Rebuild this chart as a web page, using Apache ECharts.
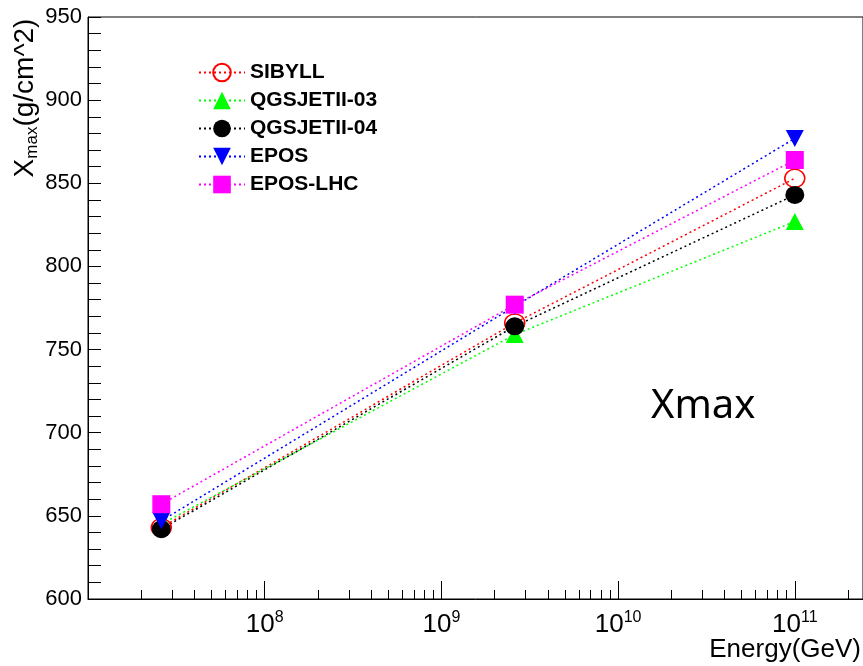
<!DOCTYPE html>
<html><head><meta charset="utf-8">
<script src="https://cdn.jsdelivr.net/npm/echarts@6/dist/echarts.min.js"></script>
<style>html,body{margin:0;padding:0;background:#fff}#c{width:863px;height:666px}</style>
</head><body><div id="c"></div>
<script>
// Data (energy in GeV, Xmax in g/cm^2)
const energies = [2.6e7, 2.6e9, 1e11];
const sibyll  = [643, 766, 853];
const qgs03   = [645, 759, 827];
const qgs04   = [642, 764, 843];
const epos    = [647, 776, 877];
const eposLhc = [657, 777, 864];
const seriesNames = ['SIBYLL', 'QGSJETII-03', 'QGSJETII-04', 'EPOS', 'EPOS-LHC'];
const xMajorExp = [8, 9, 10, 11];
const yLabels = [600, 650, 700, 750, 800, 850, 900, 950];

const FONT = "'Liberation Sans', Arial, Helvetica, sans-serif";
const xMin = 7, xMax = 11.386;
const xMinor = [];
for (let d = 7; d <= 11; d++) for (let k = 2; k <= 9; k++) { const v = d + Math.log10(k); if (v < xMax) xMinor.push(v); }
const yMinor = [];
for (let v = 600; v <= 950; v += 10) yMinor.push(v);

const toPts = vals => energies.map((e, i) => [Math.log10(e), vals[i]]);
const dotted = c => ({ color: c, width: 1.5, type: [2, 3] });

const chart = echarts.init(document.getElementById('c'));
chart.setOption({
  animation: false,
  backgroundColor: '#fff',
  grid: { left: 88, right: -20, top: 17, bottom: 67, show: true, borderColor: '#000', borderWidth: 1 },
  legend: {
    orient: 'vertical', left: 193, top: 57,
    itemWidth: 46, itemHeight: 22, itemGap: 7,
    data: seriesNames,
    textStyle: { fontFamily: FONT, fontWeight: 'bold', fontSize: 21, color: '#000', padding: [0, 0, 0, 0] }
  },
  xAxis: [{
    type: 'value', min: xMin, max: xMax,
    axisLine: { show: true, lineStyle: { color: '#000', width: 1 } },
    axisTick: { show: true, inside: true, length: 18, customValues: [7, 8, 9, 10, 11], lineStyle: { color: '#000' } },
    splitLine: { show: false },
    axisLabel: {
      customValues: xMajorExp, margin: 11,
      formatter: v => '{b|10}{s|' + Math.round(v) + '}',
      rich: {
        b: { fontFamily: FONT, fontSize: 26, color: '#000', lineHeight: 30 },
        s: { fontFamily: FONT, fontSize: 16, color: '#000', lineHeight: 16, verticalAlign: 'top' }
      }
    }
  }, {
    type: 'value', min: xMin, max: xMax, position: 'bottom',
    axisLine: { show: false },
    axisTick: { show: true, inside: true, length: 9, customValues: xMinor, lineStyle: { color: '#000' } },
    axisLabel: { show: false }, splitLine: { show: false }
  }],
  yAxis: {
    type: 'value', min: 600, max: 950,
    axisLine: { show: true, lineStyle: { color: '#000', width: 1 } },
    axisTick: { show: true, inside: true, length: 13, customValues: yMinor, lineStyle: { color: '#000' } },
    splitLine: { show: false },
    axisLabel: { customValues: yLabels, margin: 6, fontFamily: FONT, fontSize: 22, color: '#000' }
  },
  series: [
    { name: 'SIBYLL', type: 'line', data: toPts(sibyll), symbol: 'circle', symbolSize: [20, 18],
      itemStyle: { color: 'rgba(255,255,255,0)', borderColor: '#ff0000', borderWidth: 1.5 }, lineStyle: dotted('#ff0000') },
    { name: 'QGSJETII-03', type: 'line', data: toPts(qgs03), symbol: 'triangle', symbolSize: [18, 17],
      itemStyle: { color: '#00ff00' }, lineStyle: dotted('#00ff00') },
    { name: 'QGSJETII-04', type: 'line', data: toPts(qgs04), symbol: 'circle', symbolSize: [19, 18],
      itemStyle: { color: '#000000' }, lineStyle: dotted('#000000') },
    { name: 'EPOS', type: 'line', data: toPts(epos), symbol: 'path://M0,0 L10,0 L5,10 Z', symbolSize: [18, 17],
      itemStyle: { color: '#0000ff' }, lineStyle: dotted('#0000ff') },
    { name: 'EPOS-LHC', type: 'line', data: toPts(eposLhc), symbol: 'rect', symbolSize: [18, 18],
      itemStyle: { color: '#ff00ff' }, lineStyle: dotted('#ff00ff') }
  ],
  graphic: [
    { type: 'text', left: 651, top: 387, style: { text: 'Xmax', fontFamily: "'Noto Sans', 'Open Sans', sans-serif", fontSize: 40, fill: '#000' } },
    { type: 'text', x: 861, y: 650, style: { text: 'Energy(GeV)', fontFamily: FONT, fontSize: 26, fill: '#000', textAlign: 'right', textVerticalAlign: 'middle' } },
    { type: 'text', x: 25, y: 98, rotation: Math.PI / 2,
      style: { text: '{a|X}{b|max}{a|(g/cm^2)}', textAlign: 'center', textVerticalAlign: 'middle',
        rich: { a: { fontFamily: FONT, fontSize: 28, fill: '#000', lineHeight: 32 },
                b: { fontFamily: FONT, fontSize: 17, fill: '#000', lineHeight: 17, verticalAlign: 'bottom' } } } }
  ]
});
</script>
</body></html>
